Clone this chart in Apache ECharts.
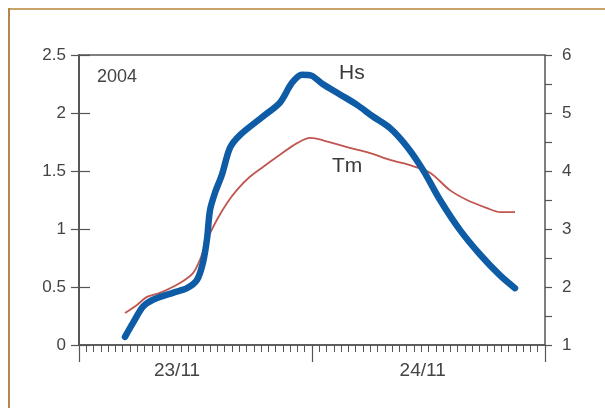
<!DOCTYPE html>
<html>
<head>
<meta charset="utf-8">
<script src="https://cdn.jsdelivr.net/npm/echarts@6/dist/echarts.min.js"></script>
<style>
html,body{margin:0;padding:0;background:#fff;}
#c{width:605px;height:408px;}
</style>
</head>
<body>
<div id="c"></div>
<script>
// hours since 23/11 00:00
const hsHours = [4.74,5.56,6.59,7.62,9.68,11.12,12.15,12.77,13.18,13.49,14.0,14.73,15.55,16.58,18.95,20.7,21.94,22.97,24.0,25.1,26.88,28.64,30.28,32.04,33.79,35.43,37.19,39.25,41.31,43.37,44.91];
const hsValues = [0.07,0.19,0.33,0.39,0.45,0.49,0.56,0.71,0.91,1.16,1.31,1.47,1.70,1.81,1.97,2.09,2.26,2.33,2.32,2.25,2.16,2.07,1.97,1.87,1.71,1.51,1.25,0.99,0.78,0.60,0.49];
const tmHours = [4.74,5.97,7.0,8.34,10.4,11.74,12.46,13.18,14.21,15.25,16.3,17.6,18.95,20.7,22.46,23.79,25.13,27.61,29.98,32.04,34.1,36.16,38.2,39.97,42.03,43.37,44.91];
const tmValues = [1.55,1.69,1.83,1.90,2.07,2.24,2.47,2.81,3.16,3.45,3.68,3.90,4.07,4.28,4.48,4.57,4.53,4.41,4.31,4.19,4.10,3.97,3.67,3.50,3.36,3.29,3.29];
const dayLabels = ['23/11','24/11'];
const dayLabelHours = [10.1,35.4];
const yearLabel = '2004';
const hsName = 'Hs';
const tmName = 'Tm';

const axisColor = '#555';
const textColor = '#444';
const font = 'Liberation Sans, Arial';
const chart = echarts.init(document.getElementById('c'), null, {renderer:'canvas'});
chart.setOption({
  animation:false,
  backgroundColor:'#fff',
  grid:{left:79,right:60,top:55,bottom:63,show:true,borderColor:axisColor,borderWidth:1.5,backgroundColor:'transparent'},
  xAxis:[{
    type:'value',min:0,max:48,interval:24,
    axisLine:{show:true,lineStyle:{color:axisColor,width:1.5}},
    axisTick:{show:true,inside:false,length:17,lineStyle:{color:axisColor,width:1.2}},
    minorTick:{show:true,splitNumber:32,length:7,lineStyle:{color:axisColor,width:1}},
    axisLabel:{show:false},
    splitLine:{show:false}
  },{
    type:'value',min:0,max:48,position:'bottom',
    axisLine:{show:false},axisTick:{show:false},splitLine:{show:false},minorTick:{show:false},
    axisLabel:{show:true,customValues:dayLabelHours,margin:16,color:textColor,fontFamily:font,fontSize:19,
      formatter:function(v){const i=dayLabelHours.indexOf(v);return i>=0?dayLabels[i]:'';}}
  }],
  yAxis:[{
    type:'value',min:0,max:2.5,interval:0.5,position:'left',
    axisLine:{show:true,lineStyle:{color:axisColor,width:1.5}},
    axisTick:{show:true,inside:false,length:8,lineStyle:{color:axisColor,width:1.2}},
    minorTick:{show:false},
    axisLabel:{margin:13,color:textColor,fontFamily:font,fontSize:17},
    splitLine:{show:false}
  },{
    type:'value',min:1,max:6,interval:1,position:'right',
    axisLine:{show:true,lineStyle:{color:axisColor,width:1.5}},
    axisTick:{show:true,inside:false,length:11,lineStyle:{color:axisColor,width:1.2}},
    minorTick:{show:false},
    axisLabel:{margin:17,color:textColor,fontFamily:font,fontSize:17},
    splitLine:{show:false}
  },{
    type:'value',min:1,max:6,interval:0.5,position:'right',
    axisLine:{show:false},
    axisTick:{show:true,inside:false,length:7,lineStyle:{color:axisColor,width:1.2}},
    minorTick:{show:false},
    axisLabel:{show:false},
    splitLine:{show:false}
  }],
  series:[{
    name:tmName,type:'line',xAxisIndex:0,yAxisIndex:1,smooth:0.3,symbol:'none',
    data:tmHours.map((h,i)=>[h,tmValues[i]]),
    lineStyle:{color:'#bf5650',width:1.8},z:2
  },{
    name:hsName,type:'line',xAxisIndex:0,yAxisIndex:0,smooth:0.3,symbol:'none',
    data:hsHours.map((h,i)=>[h,hsValues[i]]),
    lineStyle:{color:'#0f5ca6',width:6.5,cap:'round',join:'round'},z:3
  }],
  graphic:[
    {type:'line',shape:{x1:8,y1:9,x2:605,y2:9},style:{stroke:'#c8a468',lineWidth:2}},
    {type:'line',shape:{x1:9,y1:8,x2:9,y2:408},style:{stroke:'#b4884a',lineWidth:2}},
    {type:'text',left:97,top:68,style:{text:yearLabel,fill:textColor,font:'18px "Liberation Sans", Arial'}},
    {type:'text',left:339,top:63,style:{text:hsName,fill:'#3a3a3a',font:'21px "Liberation Sans", Arial'}},
    {type:'text',left:332,top:156,style:{text:tmName,fill:'#3a3a3a',font:'21px "Liberation Sans", Arial'}}
  ]
});
</script>
</body>
</html>
